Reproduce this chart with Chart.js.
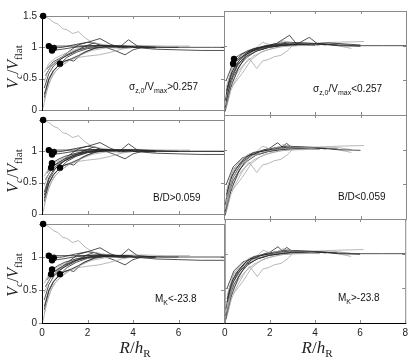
<!DOCTYPE html>
<html>
<head>
<meta charset="utf-8">
<script src="https://cdn.jsdelivr.net/npm/chart.js@4.4.0/dist/chart.umd.min.js"></script>
<style>
  body { margin: 0; background: #fff; width: 415px; height: 360px; position: relative; overflow: hidden; }
  canvas { position: absolute; }
  .note { position: absolute; font-family: Arial, "Liberation Sans", sans-serif; font-size: 10px; line-height: 1; color: #111; white-space: nowrap; }
  .note sub { font-size: 7px; vertical-align: -3px; }
  .ytitle { position: absolute; font-family: "Liberation Serif", serif; font-size: 16px; line-height: 1; white-space: nowrap; color: #222;
            transform: translate(-50%, -50%) rotate(-90deg); }
  .xtitle { position: absolute; font-family: "Liberation Serif", serif; font-size: 17px; line-height: 1; white-space: nowrap; color: #222;
            transform: translate(-50%, -50%); }
  sub.m { font-size: 11px; vertical-align: -4px; line-height: 1; }
</style>
</head>
<body>
<script>
// axis ticks
const xTicks = [0, 2, 4, 6, 8];
const yTicks = [0, 0.5, 1, 1.5];

// rotation curves [R/hR, Vc/Vflat]
const L1 = [[0.3,1.02],[0.8,1.02],[1.5,1.02],[2.5,1.03],[3.5,1.02],[4.5,1.01],[5.5,1.0],[6.5,1.0],[7.5,1.0],[8,1.0]];
const L2 = [[0.44,0.95],[0.9,0.97],[1.4,1.0],[2.0,1.02],[2.6,1.03],[3.2,1.02],[4.0,1.0],[5.0,0.97],[6.0,0.96],[7.0,0.95],[8,0.95]];
const L3 = [[0.52,0.99],[0.9,1.0],[1.4,1.04],[2.0,1.08],[2.55,1.14],[3.0,1.05],[3.4,1.0],[3.8,1.12],[4.2,1.02],[5.0,1.0],[6.0,1.0]];
const L4 = [[0.79,0.74],[1.0,0.78],[1.3,0.82],[1.6,0.87],[1.9,0.93],[2.3,0.98],[2.8,1.01],[3.4,1.02],[4.0,1.01]];
const L5 = [[0.05,1.5],[0.3,1.46],[0.5,1.4],[0.7,1.37],[0.9,1.3],[1.1,1.28],[1.35,1.22],[1.6,1.25],[1.9,1.15],[2.2,1.08],[2.6,1.05],[3.0,1.03],[3.5,1.02],[4.0,1.0]];
const L6 = [[0.05,0.03],[0.2,0.3],[0.4,0.5],[0.6,0.62],[0.9,0.72],[1.2,0.8],[1.6,0.84],[2.0,0.86],[2.5,0.88],[3.0,0.92],[3.5,0.97],[4.0,1.0]];
const L7 = [[0.1,0.25],[0.3,0.5],[0.5,0.63],[0.8,0.74],[1.1,0.84],[1.5,0.92],[2.0,0.98],[2.5,1.0],[3.0,1.01],[3.5,1.0],[4.0,1.0],[5.0,1.0]];
const L8 = [[0.1,0.35],[0.3,0.58],[0.5,0.7],[0.8,0.8],[1.1,0.88],[1.5,0.95],[2.0,1.0],[2.5,1.02],[3.0,1.03],[3.5,1.02],[4.0,1.01]];
const L9 = [[0.1,0.45],[0.3,0.65],[0.6,0.77],[1.0,0.87],[1.4,0.94],[2.0,0.99],[2.8,1.02],[3.5,1.03],[4.5,1.03],[5.5,1.02],[6.5,1.02]];
const L10 = [[0.1,0.15],[0.3,0.42],[0.5,0.58],[0.8,0.69],[1.2,0.79],[1.7,0.88],[2.2,0.95],[2.8,0.99],[3.5,1.0]];
const L11 = [[0.15,0.55],[0.4,0.7],[0.7,0.79],[1.0,0.85],[1.4,0.92],[1.9,1.02],[2.3,1.07],[2.8,1.0],[3.2,0.95],[3.65,0.88],[4.0,0.96],[4.4,1.0],[5.0,0.99]];
const L12 = [[0.1,0.6],[0.3,0.74],[0.6,0.83],[1.0,0.9],[1.5,0.97],[2.0,1.02],[2.6,1.04],[3.2,1.02],[4.0,1.01],[5.0,1.0]];
const L13 = [[0.2,0.65],[0.5,0.77],[0.9,0.85],[1.2,0.94],[1.6,1.04],[2.0,1.08],[2.4,1.06],[2.9,1.0],[3.5,0.99],[4.2,1.0]];
const L14 = [[0.1,0.2],[0.3,0.48],[0.5,0.62],[0.7,0.7],[1.0,0.78],[1.2,0.8],[1.4,0.78],[1.7,0.88],[2.0,0.94],[2.4,1.0],[3.0,1.02],[3.6,1.0]];

const S1 = [[0.44,0.81],[0.7,0.87],[1.0,0.92],[1.5,0.97],[2.0,1.0],[2.6,1.02],[3.2,1.02],[4.0,1.01]];
const S2 = [[0.4,0.74],[0.7,0.82],[1.0,0.88],[1.4,0.94],[2.0,0.99],[2.6,1.01],[3.2,1.01]];
const S3 = [[0.1,0.3],[0.3,0.55],[0.6,0.73],[1.0,0.85],[1.5,0.93],[2.0,0.98],[3.0,1.02],[4.0,1.03],[5.0,1.01],[6.0,1.0],[7.0,1.0],[8,1.0]];

const R1 = [[0.1,0.1],[0.3,0.35],[0.5,0.5],[0.8,0.68],[1.1,0.82],[1.44,0.67],[1.7,0.78],[1.95,0.8],[2.2,0.84],[2.5,0.86],[2.8,0.93],[3.0,1.0],[3.5,1.0],[4.0,1.01]];
const R2 = [[0.1,0.2],[0.3,0.5],[0.6,0.72],[1.0,0.88],[1.4,0.95],[1.8,0.99],[2.3,1.03],[2.88,1.15],[3.2,1.02],[3.75,1.12],[4.1,1.03],[4.6,1.04],[5.5,1.02],[6.0,1.01]];
const R3 = [[0.1,0.3],[0.4,0.6],[0.8,0.8],[1.2,0.9],[1.7,0.96],[2.2,1.0],[2.8,1.02],[3.5,1.03],[4.2,1.04],[5.0,1.05],[6.15,1.06]];
const R4 = [[0.05,0.05],[0.3,0.4],[0.6,0.65],[0.9,0.82],[1.2,0.92],[1.6,0.97],[2.0,1.0],[2.6,1.03],[3.2,1.04],[4.0,1.03],[5.0,1.0],[6.0,0.99]];
const R5 = [[0.1,0.35],[0.35,0.62],[0.7,0.8],[1.0,0.9],[1.3,0.96],[1.7,0.98],[2.2,1.0],[3.0,1.02],[3.8,1.03],[4.5,1.01]];
const R6 = [[0.05,0.15],[0.3,0.45],[0.6,0.62],[0.9,0.74],[1.3,0.85],[1.8,0.93],[2.4,0.98],[3.0,1.0],[3.6,1.01],[4.2,1.0]];
const R7 = [[0.15,0.45],[0.4,0.7],[0.7,0.84],[1.1,0.94],[1.5,0.97],[2.0,1.0],[2.5,1.02],[3.0,1.03],[3.5,1.04],[4.2,1.03],[5.0,1.0],[5.6,0.96]];
const R8 = [[0.1,0.25],[0.3,0.4],[0.5,0.47],[0.8,0.6],[1.2,0.8],[1.6,0.9],[2.0,0.95],[2.6,0.99],[3.2,1.0],[4.0,1.02],[5.0,1.03],[5.6,1.0]];
const R9 = [[0.05,0.1],[0.2,0.35],[0.4,0.55],[0.7,0.72],[1.0,0.83],[1.4,0.92],[1.9,0.97],[2.5,1.0],[3.2,1.02],[4.0,1.01]];
const R10 = [[0.1,0.4],[0.4,0.72],[0.8,0.86],[1.3,0.93],[1.7,1.05],[2.1,1.0],[2.6,1.07],[3.0,1.04],[3.6,1.03],[4.4,1.02]];
const R11 = [[0.1,0.5],[0.4,0.75],[0.8,0.88],[1.2,0.93],[1.6,0.94],[2.0,0.98],[2.5,1.0],[3.0,1.01],[3.8,1.02]];
const R12 = [[0.05,0.2],[0.25,0.55],[0.5,0.72],[0.9,0.87],[1.3,0.95],[1.8,1.0],[2.3,1.03],[2.8,1.05],[3.4,1.04],[4.0,1.03],[5.0,1.01]];
const R13 = [[0.1,0.3],[0.4,0.6],[0.8,0.82],[1.2,0.92],[1.6,0.98],[2.0,1.02],[2.36,1.1],[2.55,1.04],[2.75,1.09],[3.0,1.03],[3.5,1.02],[4.2,1.01]];

// which curves have a marker on their first point, which are drawn grey
const dotted = [L1, L2, L3, L4, L5, S1, S2];
const greyed = [L5, L6, L9, L10, L12, R1, R3, R6, R7, R8, R10];

// subsets shown in each panel
const topLeft = [L1, L2, L3, L4, L5, L6, L7, L8, L9, L10, L11, L12, L13, L14];
const topRight = [S1, S2, S3, R1, R2, R3, R4, R5, R6, R7, R8, R9, R10, R11, R12];
const midLeft = [L1, L2, L3, L4, L5, S1, S2, S3, L6, L7, L8, L9, L10, L11, L12, L13, L14];
const midRight = [R1, R3, R4, R5, R6, R7, R8, R9, R10, R11, R12, R13];
const botLeft = [L1, L2, L3, L4, L5, S1, S2, L6, L7, L8, L9, L10, L11, L12, L13, L14];
const botRight = [S3, R1, R3, R4, R5, R6, R7, R8, R9, R10, R11, R12, R13];

const panels = [
    { row: 0, col: 0, curves: topLeft,  note: 'σ<sub>z,0</sub>/V<sub>max</sub>&gt;0.257', nx: 129, ny: 82 },
    { row: 0, col: 1, curves: topRight, note: 'σ<sub>z,0</sub>/V<sub>max</sub>&lt;0.257', nx: 313, ny: 84 },
    { row: 1, col: 0, curves: midLeft,  note: 'B/D&gt;0.059', nx: 153, ny: 193 },
    { row: 1, col: 1, curves: midRight, note: 'B/D&lt;0.059', nx: 338, ny: 192 },
    { row: 2, col: 0, curves: botLeft,  note: 'M<sub>K</sub>&lt;-23.8', nx: 155, ny: 294 },
    { row: 2, col: 1, curves: botRight, note: 'M<sub>K</sub>&gt;-23.8', nx: 338, ny: 293 }
];

const BLACK = '#262626';
const GREY = '#a6a6a6';
const FRAME = '#8a8a8a';

const colX = [42, 224];
const rowY = [11, 115, 219];
const panelW = 182, panelH = 104;
const PAD = 6, YAXIS_W = 34, XAXIS_H = 18;

const framePlugin = {
    id: 'frame',
    beforeDatasetsDraw(chart, args, opts) {
        const { ctx, chartArea: a, scales } = chart;
        ctx.save();
        ctx.lineWidth = 1;
        ctx.strokeStyle = FRAME;
        ctx.strokeRect(a.left + 0.5, a.top + 0.5, a.width, a.height);
        ctx.beginPath();
        xTicks.forEach(v => {
            const px = Math.round(scales.x.getPixelForValue(v)) + 0.5;
            ctx.moveTo(px, a.top); ctx.lineTo(px, a.top + 3);
            ctx.moveTo(px, a.bottom); ctx.lineTo(px, a.bottom - 3);
        });
        yTicks.forEach(v => {
            const py = Math.round(scales.y.getPixelForValue(v)) + 0.5;
            ctx.moveTo(a.left, py); ctx.lineTo(a.left + 3, py);
            ctx.moveTo(a.right, py); ctx.lineTo(a.right - 3, py);
            if (opts.left) { ctx.moveTo(a.left, py); ctx.lineTo(a.left - 3, py); }
        });
        ctx.stroke();
        ctx.strokeStyle = '#000';
        ctx.beginPath();
        if (opts.left) { ctx.moveTo(a.left + 0.5, a.top); ctx.lineTo(a.left + 0.5, a.bottom + 1); }
        if (opts.bottom) { ctx.moveTo(a.left, a.bottom + 0.5); ctx.lineTo(a.right + 1, a.bottom + 0.5); }
        ctx.stroke();
        ctx.restore();
    }
};

const tickFont = { family: 'Arial, "Liberation Sans", sans-serif', size: 10 };

panels.forEach(p => {
    const left = p.col === 0, bottom = p.row === 2;
    const padL = PAD + (left ? YAXIS_W : 0);
    const padB = PAD + (bottom ? XAXIS_H : 0);
    const canvas = document.createElement('canvas');
    canvas.width = panelW + padL + PAD;
    canvas.height = panelH + PAD + padB;
    canvas.style.left = (colX[p.col] - padL) + 'px';
    canvas.style.top = (rowY[p.row] - PAD) + 'px';
    document.body.appendChild(canvas);

    new Chart(canvas, {
        type: 'scatter',
        data: {
            datasets: p.curves.map(c => ({
                data: c.map(([x, y]) => ({ x, y })),
                showLine: true,
                borderColor: greyed.includes(c) ? GREY : BLACK,
                borderWidth: 0.8,
                tension: 0,
                clip: false,
                pointRadius: ctx => (ctx.dataIndex === 0 && dotted.includes(c)) ? 3.2 : 0,
                pointBackgroundColor: '#000',
                pointBorderWidth: 0,
                pointHoverRadius: 0
            }))
        },
        options: {
            responsive: false,
            animation: false,
            events: [],
            layout: { padding: { left: PAD, right: PAD, top: PAD, bottom: PAD } },
            plugins: {
                legend: { display: false },
                tooltip: { enabled: false },
                frame: { left, bottom }
            },
            scales: {
                x: {
                    type: 'linear', min: 0, max: 8, display: bottom,
                    afterFit: s => { s.height = bottom ? XAXIS_H : 0; },
                    grid: { display: false, drawTicks: false }, border: { display: false },
                    ticks: {
                        stepSize: 2, color: '#222', font: tickFont, padding: 4, maxRotation: 0,
                        callback: v => (left && v === 8) ? '' : String(v)
                    }
                },
                y: {
                    type: 'linear', min: 0, max: 1.5, display: left,
                    afterFit: s => { s.width = left ? YAXIS_W : 0; },
                    grid: { display: false, drawTicks: false }, border: { display: false },
                    ticks: {
                        stepSize: 0.5, color: '#222', font: tickFont, padding: 5,
                        callback: v => (p.row > 0 && v === 1.5) ? '' : String(v)
                    }
                }
            }
        },
        plugins: [framePlugin]
    });

    const note = document.createElement('div');
    note.className = 'note';
    note.innerHTML = p.note;
    note.style.left = p.nx + 'px';
    note.style.top = p.ny + 'px';
    document.body.appendChild(note);

    if (left) {
        const yt = document.createElement('div');
        yt.className = 'ytitle';
        yt.innerHTML = '<i>V</i><sub class="m"><i>c</i></sub>/<i>V</i><sub class="m">flat</sub>';
        yt.style.left = '14px';
        yt.style.top = (rowY[p.row] + panelH / 2 + 4) + 'px';
        document.body.appendChild(yt);
    }
    if (bottom) {
        const xt = document.createElement('div');
        xt.className = 'xtitle';
        xt.innerHTML = '<i>R</i>/<i>h</i><sub class="m">R</sub>';
        xt.style.left = (colX[p.col] + panelW / 2 + 2) + 'px';
        xt.style.top = '349px';
        document.body.appendChild(xt);
    }
});
</script>
</body>
</html>
